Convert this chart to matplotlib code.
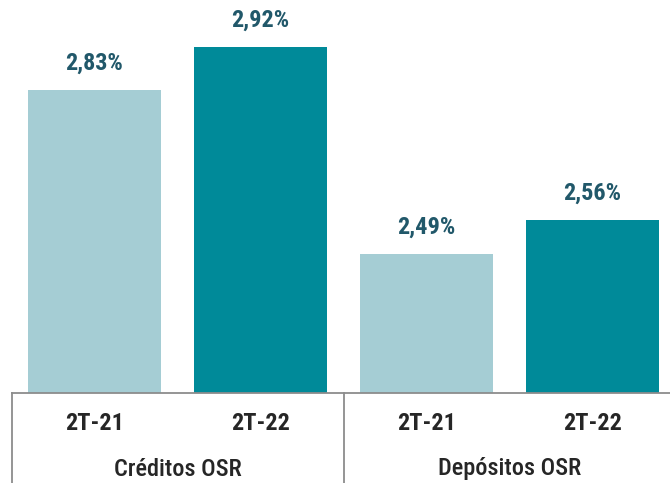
import matplotlib
matplotlib.use("Agg")
import matplotlib.pyplot as plt
from matplotlib import font_manager
import matplotlib.transforms as mtransforms

groups = ["Créditos OSR", "Depósitos OSR"]
periods = ["2T-21", "2T-22", "2T-21", "2T-22"]
values = [2.83, 2.92, 2.49, 2.56]
value_labels = ["2,83%", "2,92%", "2,49%", "2,56%"]
colors = ["#a5cdd4", "#008a99", "#a5cdd4", "#008a99"]

fonts = font_manager.fontManager.ttflist
def has_bold(name):
    return any(f.name == name and (f.weight == 700 or f.weight == "bold") for f in fonts)
prefs = ["Liberation Sans Narrow", "Arial Narrow", "Roboto Condensed", "Asap Condensed",
         "Archivo Narrow", "Liberation Sans"]
fam = [n for n in prefs if has_bold(n)] + ["DejaVu Sans"]
plt.rcParams['font.family'] = fam

fig = plt.figure(figsize=(6.7, 4.83), dpi=100)
W, H = 670, 483
left, right = 11.5, 675.5
bottom_px, top_px = 393, 8.5
ax = fig.add_axes([left / W, (H - bottom_px) / H, (right - left) / W, (bottom_px - top_px) / H])

x = list(range(len(values)))
ax.bar(x, values, width=0.8, color=colors, zorder=2)
ax.set_xlim(-0.5, 3.5)
ax.set_ylim(2.2, 3.0)

for xi, v, lab in zip(x, values, value_labels):
    ax.annotate(lab, (xi, v), xytext=(0, 11), textcoords="offset points",
                ha="center", va="bottom", fontsize=17.5, fontweight="bold",
                color="#21586a")

for s in ["top", "right", "left"]:
    ax.spines[s].set_visible(False)
ax.spines["bottom"].set_color("#8c8c8c")
ax.spines["bottom"].set_linewidth(1.3)
ax.set_yticks([])
ax.set_xticks(x)
ax.set_xticklabels(periods, fontsize=17.5, fontweight="bold", color="#262626")
ax.tick_params(axis="x", length=0, pad=14)

trans = mtransforms.blended_transform_factory(ax.transData, ax.transAxes)
ax_h = bottom_px - top_px
for sx in [-0.5, 1.5, 3.5]:
    ax.plot([sx, sx], [0, -(H - bottom_px) / ax_h], transform=trans,
            color="#8c8c8c", lw=1.3, clip_on=False)
for gi, g in enumerate(groups):
    ax.text(gi * 2 + 0.5, -(469 - bottom_px) / ax_h, g, transform=trans,
            ha="center", va="center", fontsize=17.5, fontweight="medium",
            color="#262626")

fig.savefig("out.png", dpi=100)
